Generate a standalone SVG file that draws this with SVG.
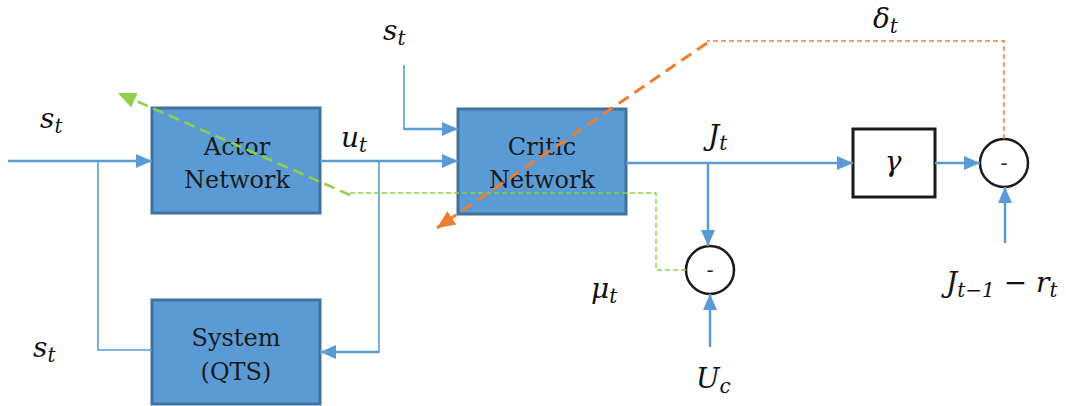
<svg xmlns="http://www.w3.org/2000/svg" width="1066" height="406" viewBox="0 0 1066 406">
<defs>
<marker id="ab" markerUnits="userSpaceOnUse" markerWidth="18" markerHeight="16" refX="16" refY="7" orient="auto"><path d="M0,0 L16,7 L0,14 Z" fill="#5B9BD5"/></marker>
<marker id="ao" markerUnits="userSpaceOnUse" markerWidth="20" markerHeight="18" refX="18" refY="8" orient="auto"><path d="M0,0 L18,8 L0,16 Z" fill="#ED7D31"/></marker>
<marker id="ag" markerUnits="userSpaceOnUse" markerWidth="20" markerHeight="18" refX="18" refY="8" orient="auto"><path d="M0,0 L18,8 L0,16 Z" fill="#8FCF4C"/></marker>
</defs>
<style>
.box{fill:#5B9BD5;stroke:#41719C;stroke-width:3}
.bt{font-family:'DejaVu Serif',serif;font-size:24px;fill:#1a1a1a;text-anchor:middle}
.m{font-family:'DejaVu Serif',serif;font-style:italic;font-size:28px;fill:#111}
.sub{font-size:20px}
.w{fill:none;stroke:#5B9BD5;stroke-width:2.5}
.t{fill:none;stroke:#5B9BD5;stroke-width:1.6}
.sum{fill:#fff;stroke:#1a1a1a;stroke-width:2.5}
.mn{font-family:'DejaVu Sans',sans-serif;font-size:20px;fill:#222;text-anchor:middle}
</style>
<g id="actor"><rect class="box" x="152" y="108" width="168" height="105"/><text class="bt" x="237" y="155">Actor</text><text class="bt" x="237" y="188">Network</text></g>
<g id="critic"><rect class="box" x="458" y="109" width="168" height="105"/><text class="bt" x="542" y="155">Critic</text><text class="bt" x="542" y="188">Network</text></g>
<g id="system"><rect class="box" x="152" y="300" width="168" height="104"/><text class="bt" x="236" y="346">System</text><text class="bt" x="236" y="380">(QTS)</text></g>
<g id="gamma"><rect x="853" y="129" width="82" height="68" fill="#fff" stroke="#1a1a1a" stroke-width="3"/><text class="m" x="893" y="171" text-anchor="middle">γ</text></g>
<g id="sum1"><circle class="sum" cx="1004" cy="163" r="24"/><text class="mn" x="1004" y="170">-</text></g>
<g id="sum2"><circle class="sum" cx="710" cy="270" r="24"/><text class="mn" x="710" y="277">-</text></g>
<g id="connectors">
<path class="w" d="M8,161 H152" marker-end="url(#ab)"/>
<path class="t" d="M98,161 V350 H152"/>
<path class="w" d="M320,161 H458" marker-end="url(#ab)"/>
<path class="t" d="M379,161 V352 H322" />
<path class="w" d="M379,352 H320" marker-end="url(#ab)"/>
<path class="t" d="M404,65 V129 H420"/>
<path class="w" d="M404,129 H458" marker-end="url(#ab)"/>
<path class="w" d="M626,163 H853" marker-end="url(#ab)"/>
<path class="w" d="M708,163 V246" marker-end="url(#ab)"/>
<path class="w" d="M935,163 H980" marker-end="url(#ab)"/>
<path class="w" d="M1005,243 V187" marker-end="url(#ab)"/>
<path class="w" d="M710,347 V294" marker-end="url(#ab)"/>
<path d="M686,270 H656 V193 H350" fill="none" stroke="#8FCF4C" stroke-width="1.4" stroke-dasharray="5,3"/>
<path d="M350,195 L118,93" fill="none" stroke="#8FCF4C" stroke-width="2.6" stroke-dasharray="11,6" marker-end="url(#ag)"/>
<path d="M1004,139 V41 H707" fill="none" stroke="#ED7D31" stroke-width="1.4" stroke-dasharray="5,3"/>
<path d="M707,43 L437,228" fill="none" stroke="#ED7D31" stroke-width="3" stroke-dasharray="12,7" marker-end="url(#ao)"/>
</g>
<g id="labels">
<text class="m" x="40" y="128">s<tspan class="sub" dy="5">t</tspan></text>
<text class="m" x="33" y="357">s<tspan class="sub" dy="5">t</tspan></text>
<text class="m" x="383" y="40">s<tspan class="sub" dy="5">t</tspan></text>
<text class="m" x="341" y="147">u<tspan class="sub" dy="5">t</tspan></text>
<text class="m" x="708" y="145">J<tspan class="sub" dy="5">t</tspan></text>
<text class="m" x="873" y="28">δ<tspan class="sub" dy="5">t</tspan></text>
<text class="m" x="591" y="298">μ<tspan class="sub" dy="5">t</tspan></text>
<text class="m" x="696" y="388">U<tspan class="sub" dy="5">c</tspan></text>
<text class="m" x="946" y="292">J<tspan class="sub" dy="5">t−1</tspan><tspan dy="-5"> − r</tspan><tspan class="sub" dy="5">t</tspan></text>
</g>
</svg>
